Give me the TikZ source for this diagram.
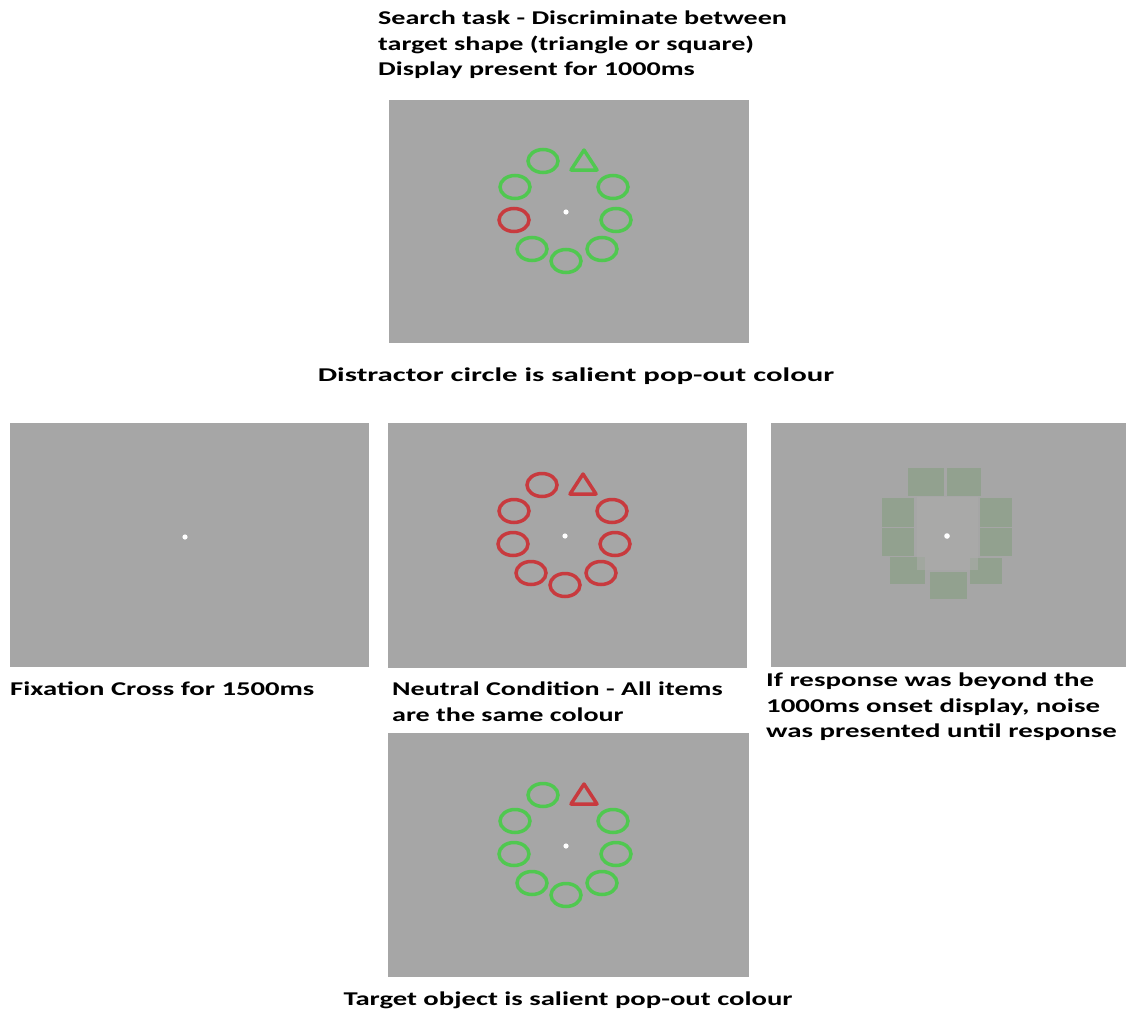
\documentclass[tikz,border=0pt]{standalone}
\usepackage{fontspec}
\setmainfont{Carlito}
\definecolor{panelgray}{RGB}{166,166,166}
\definecolor{stimgreen}{RGB}{80,200,80}
\definecolor{stimred}{RGB}{200,58,62}
\definecolor{noisegreen}{RGB}{140,160,136}
\definecolor{noisecore}{RGB}{172,172,170}
\tikzset{
  panel/.style={fill=panelgray, draw=none},
  item/.style={line width=3.5pt},
  captxt/.style={anchor=west, font=\bfseries\fontsize{19.5}{25.8}\selectfont, inner sep=0pt, align=left},
  fixdot/.style={fill=white, draw=none},
  noiseblk/.style={fill=noisegreen, draw=none},
}
\newcommand\stimring[5]{%
  \begin{scope}[shift={(#1,#2)}]
    \fill[fixdot] (0,0) circle (2.6pt);
    \draw[item,#3] (-23,-51) ellipse [x radius=15pt, y radius=11.5pt];
    \draw[item,#3] (-51,-25) ellipse [x radius=15pt, y radius=11.5pt];
    \draw[item,#3] (47,-25) ellipse [x radius=15pt, y radius=11.5pt];
    \draw[item,#4] (-52,8) ellipse [x radius=15pt, y radius=11.5pt];
    \draw[item,#3] (50,8) ellipse [x radius=15pt, y radius=11.5pt];
    \draw[item,#3] (-34,37) ellipse [x radius=15pt, y radius=11.5pt];
    \draw[item,#3] (0,49) ellipse [x radius=15pt, y radius=11.5pt];
    \draw[item,#3] (36,37) ellipse [x radius=15pt, y radius=11.5pt];
    \draw[item,#5,line join=round] (18,-62) -- (31,-42) -- (5,-42) -- cycle;
  \end{scope}}
\newcommand\wide[2]{\scalebox{#1}[1]{\begin{tabular}{@{}l@{}}#2\end{tabular}}}
\begin{document}
\begin{tikzpicture}[x=1pt,y=-1pt]
\useasboundingbox (0,0) rectangle (1126,1014);
\fill[white] (0,0) rectangle (1126,1014);
% captions
\node[captxt] (toptext) at (378,45) {\wide{1.44}{Search task - Discriminate between\\target shape (triangle or square)\\Display present for 1000ms}};
\node[captxt, anchor=center] (distr) at (576,376) {\wide{1.58}{Distractor circle is salient pop-out colour}};
\node[captxt] (fix) at (10,690) {\wide{1.47}{Fixation Cross for 1500ms}};
\node[captxt] (neutral) at (392,703) {\wide{1.44}{Neutral Condition - All items\\are the same colour}};
\node[captxt] (resp) at (766,707) {\wide{1.48}{If response was beyond the\\1000ms onset display, noise\\was presented until response}};
\node[captxt, anchor=center] (targ) at (568,1000) {\wide{1.47}{Target object is salient pop-out colour}};
% panels
\fill[panel] (389,100) rectangle (749,343);
\fill[panel] (10,423) rectangle (369,667);
\fill[panel] (388,423) rectangle (747,668);
\fill[panel] (771,423) rectangle (1126,667);
\fill[panel] (388,733) rectangle (749,977);
% top display: red distractor
\stimring{566}{212}{stimgreen}{stimred}{stimgreen}
% neutral
\stimring{565}{536}{stimred}{stimred}{stimred}
% target pop-out
\stimring{566}{846}{stimgreen}{stimgreen}{stimred}
% fixation
\fill[fixdot] (185,537) circle (2.6pt);
% noise
\begin{scope}[opacity=0.75]
\fill[noiseblk] (908,468) rectangle (944,496);
\fill[noiseblk] (947,468) rectangle (981,496);
\fill[noiseblk] (882,498) rectangle (914,527);
\fill[noiseblk] (882,528) rectangle (914,556);
\fill[noiseblk] (980,498) rectangle (1012,527);
\fill[noiseblk] (980,528) rectangle (1012,556);
\fill[noiseblk] (890,557) rectangle (925,584);
\fill[noiseblk] (930,572) rectangle (967,599);
\fill[noiseblk] (970,558) rectangle (1002,584);
\end{scope}
\fill[noisecore,opacity=0.6] (917,497) rectangle (978,570);
\fill[fixdot] (947,536) circle (2.8pt);
\end{tikzpicture}
\end{document}
